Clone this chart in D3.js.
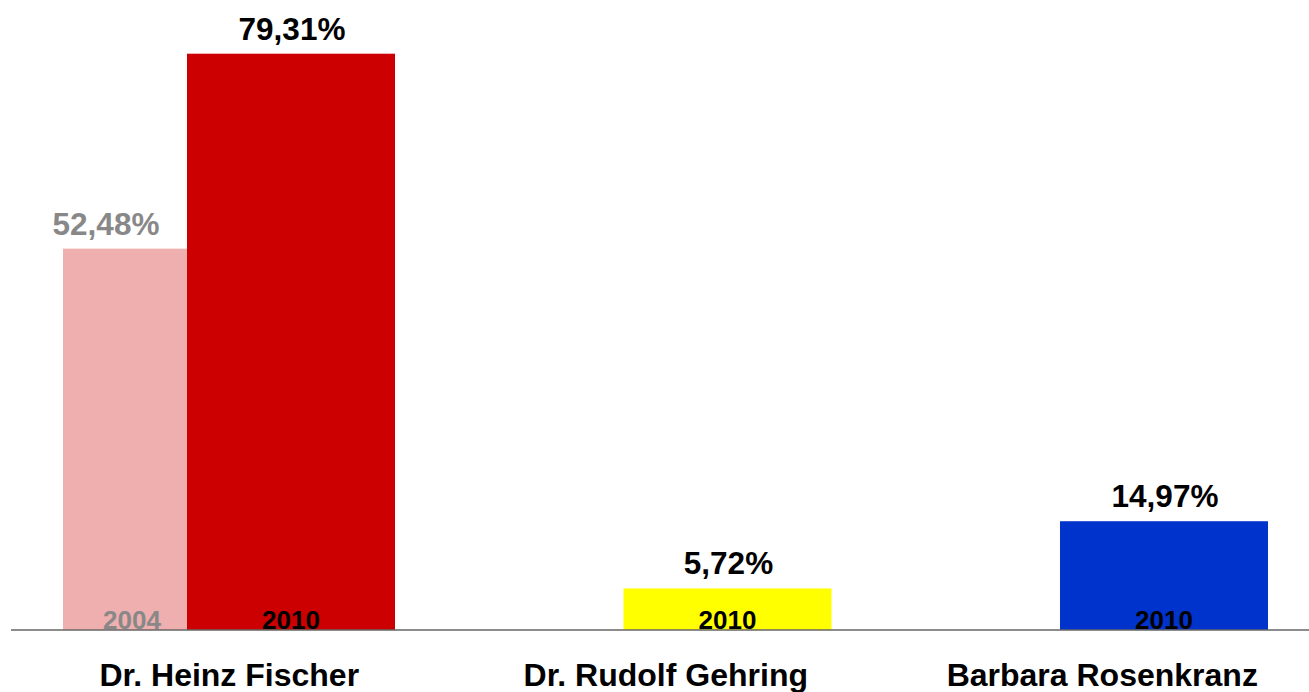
<!DOCTYPE html>
<html>
<head>
<meta charset="utf-8">
<script src="https://cdn.jsdelivr.net/npm/d3@7/dist/d3.min.js"></script>
<style>
  html, body { margin: 0; padding: 0; background: #fff; }
  svg { display: block; }
  text { font-family: "Liberation Sans", Arial, sans-serif; font-weight: bold; }
</style>
</head>
<body>
<svg id="chart" width="1309" height="692"></svg>
<script>
// ---- data ----
const categories = ["Dr. Heinz Fischer", "Dr. Rudolf Gehring", "Barbara Rosenkranz"];
const years = ["2004", "2010"];
const values2004 = [52.48, null, null];
const values2010 = [79.31, 5.72, 14.97];
const valueLabels2004 = ["52,48%", "", ""];
const valueLabels2010 = ["79,31%", "5,72%", "14,97%"];
const colors2010 = ["#CC0000", "#FFFF00", "#0033CC"];
const color2004 = "#F0AFAF";

// ---- layout ----
const W = 1309, H = 692;
const baseY = 630;
const svg = d3.select("#chart");

const x = d3.scaleBand().domain(categories).range([11, 1320.5]).padding(0);
const xs = d3.scalePoint().domain(years).range([52, 176]);
const barW = 208;
const y = d3.scaleLinear().domain([0, 79.31]).range([baseY, 53.7]);

const rows = [];
categories.forEach((c, i) => {
  if (values2004[i] != null) rows.push({cat: c, year: "2004", v: values2004[i], label: valueLabels2004[i], color: color2004});
  if (values2010[i] != null) rows.push({cat: c, year: "2010", v: values2010[i], label: valueLabels2010[i], color: colors2010[i]});
});

// bars (2004 drawn first, 2010 overlaps)
svg.append("g").selectAll("rect").data(rows).join("rect")
  .attr("x", d => x(d.cat) + xs(d.year))
  .attr("y", d => y(d.v))
  .attr("width", barW)
  .attr("height", d => baseY - y(d.v))
  .attr("fill", d => d.color);

// value labels
svg.append("g").selectAll("text").data(rows).join("text")
  .attr("x", d => d.year === "2004" ? x(d.cat) + xs(d.year) + 43 : x(d.cat) + xs(d.year) + barW / 2 + 1)
  .attr("y", d => y(d.v) - 14)
  .attr("text-anchor", "middle")
  .attr("font-size", 31.5)
  .attr("fill", d => d.year === "2004" ? "#888888" : "#000000")
  .text(d => d.label);

// year labels inside bars
svg.append("g").selectAll("text").data(rows).join("text")
  .attr("x", d => d.year === "2004" ? x(d.cat) + xs(d.year) + 69 : x(d.cat) + xs(d.year) + barW / 2)
  .attr("y", baseY - 1)
  .attr("text-anchor", "middle")
  .attr("font-size", 26)
  .attr("fill", d => d.year === "2004" ? "#888888" : "#000000")
  .text(d => d.year);

// axis
const axis = d3.axisBottom(x).tickSize(0).tickPadding(0);
const gAxis = svg.append("g").attr("transform", `translate(0,${baseY})`).call(axis);
gAxis.select(".domain").remove();
gAxis.selectAll(".tick text")
  .attr("y", 55.5)
  .attr("dy", 0)
  .attr("font-size", 32)
  .attr("fill", "#000")
  .style("font-family", '"Liberation Sans", Arial, sans-serif')
  .style("font-weight", "bold");
svg.append("line")
  .attr("x1", 11).attr("x2", 1309)
  .attr("y1", baseY).attr("y2", baseY)
  .attr("stroke", "#666").attr("stroke-width", 1.5);
</script>
</body>
</html>
